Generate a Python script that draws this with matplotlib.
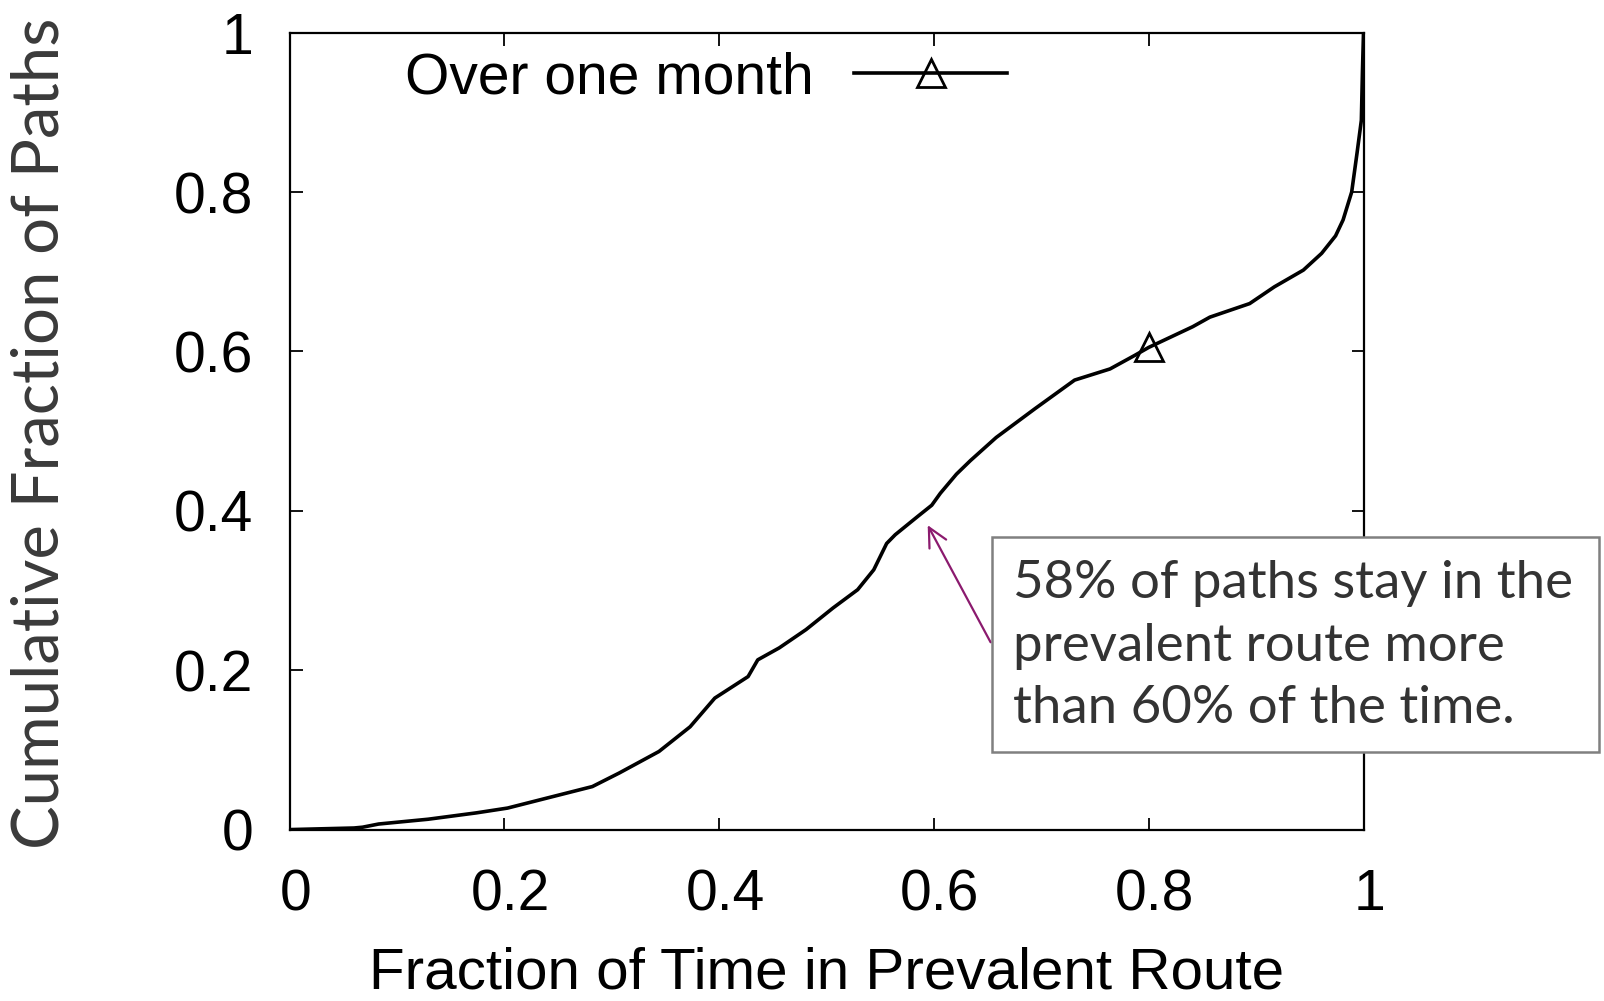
import matplotlib
matplotlib.use('Agg')
import matplotlib.pyplot as plt
import matplotlib.patches as patches
from matplotlib.transforms import ScaledTranslation

# CDF
frac_time = [0, 0.03, 0.06, 0.068, 0.083, 0.129, 0.174, 0.203, 0.241, 0.282,
             0.307, 0.344, 0.373, 0.396, 0.427, 0.436, 0.456, 0.481, 0.506, 0.529,
             0.544, 0.556, 0.564, 0.585, 0.598, 0.606, 0.621, 0.634, 0.658, 0.694,
             0.731, 0.764, 0.787, 0.8, 0.841, 0.857, 0.894, 0.917, 0.944, 0.961,
             0.974, 0.981, 0.989, 0.994, 0.998, 0.999, 1.0]
cum_paths = [0, 0.001, 0.002, 0.003, 0.007, 0.013, 0.021, 0.027, 0.040, 0.054,
             0.071, 0.098, 0.129, 0.165, 0.192, 0.213, 0.228, 0.251, 0.278, 0.301,
             0.326, 0.359, 0.370, 0.393, 0.407, 0.422, 0.446, 0.463, 0.492, 0.528,
             0.564, 0.578, 0.595, 0.605, 0.631, 0.643, 0.660, 0.681, 0.702, 0.723,
             0.745, 0.765, 0.80, 0.849, 0.89, 0.95, 1.0]
ticks = [0, 0.2, 0.4, 0.6, 0.8, 1]
tick_labels = ['0', '0.2', '0.4', '0.6', '0.8', '1']
series_name = 'Over one month'
note = '58% of paths stay in the\nprevalent route more\nthan 60% of the time.'

W, H = 1604, 1001
fig = plt.figure(figsize=(W / 100, H / 100), dpi=100)
ax = fig.add_axes([289.5 / W, 1 - 829.6 / H, 1074 / W, 797 / H])

helv = 'Liberation Sans'
soft = 'Lato'

marker_idx = frac_time.index(0.8)
ax.plot(frac_time, cum_paths, color='black', lw=2.6, marker='^', markersize=20,
        markerfacecolor='none', markeredgewidth=2.0, markevery=[marker_idx],
        label=series_name)

ax.set_xlim(0, 1)
ax.set_ylim(0, 1)
ax.set_xticks(ticks)
ax.set_xticklabels(tick_labels, fontfamily=helv, fontsize=41)
ax.set_yticks(ticks)
ax.set_yticklabels(tick_labels, fontfamily=helv, fontsize=41)
ax.tick_params(axis='both', direction='in', length=9, width=1.3,
               top=True, right=True)
ax.tick_params(axis='x', pad=28)
ax.tick_params(axis='y', pad=26)
for s in ax.spines.values():
    s.set_linewidth(1.6)
# gnuplot puts x tick labels a little right of the ticks
shift = ScaledTranslation(6 / 100, 0, fig.dpi_scale_trans)
for lab in ax.get_xticklabels():
    lab.set_transform(lab.get_transform() + shift)

# labels
fig.text(826.5 / W, 0.012, 'Fraction of Time in Prevalent Route', fontfamily=helv,
         fontsize=42, ha='center', va='baseline')
fig.text(40 / W, 1 - 433 / H, 'Cumulative Fraction of Paths', fontfamily=soft,
         fontsize=47, color='#3a3a3a', rotation=90, ha='center', va='center')

# legend, gnuplot style: text then sample
ax.legend(loc='center right', bbox_to_anchor=(1007 / W, 1 - 78 / H),
          bbox_transform=fig.transFigure, frameon=False, markerfirst=False,
          numpoints=1, handlelength=2.68, handletextpad=0.72, borderpad=0,
          borderaxespad=0, prop={'family': helv, 'size': 41})

# annotation box + arrow
box = patches.Rectangle((992 / W, 1 - 752 / H), (1599 - 992) / W, (752 - 537) / H,
                        transform=fig.transFigure, facecolor='white',
                        edgecolor='#808080', linewidth=1.8, clip_on=False)
fig.add_artist(box)
fig.text(1013 / W, 1 - 646 / H, note, fontfamily=soft, fontsize=38,
         color='#333333', ha='left', va='center', linespacing=1.4)
ax.annotate('', xy=(0.593, 0.385), xytext=(0.654, 0.232),
            arrowprops=dict(arrowstyle='->', color='#8b1a6e', lw=1.6,
                            mutation_scale=34))

fig.savefig('out.png', dpi=100)
